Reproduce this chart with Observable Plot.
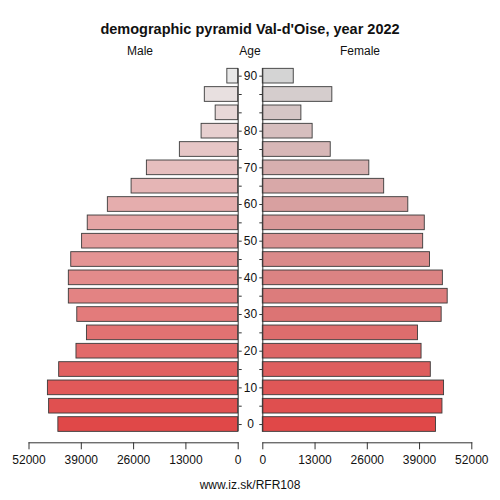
<!DOCTYPE html>
<html>
<head>
<meta charset="utf-8">
<script src="https://cdn.jsdelivr.net/npm/d3@7"></script>
<script src="https://cdn.jsdelivr.net/npm/@observablehq/plot@0.6"></script>
<style>
  html, body { margin: 0; padding: 0; background: #fff; }
  body { width: 500px; height: 500px; position: relative; overflow: hidden;
         font-family: "Liberation Sans", Arial, Helvetica, sans-serif; color: #111; }
  .t { position: absolute; white-space: nowrap; transform: translate(-50%, -50%); }
  #title { left: 250px; top: 29px; font-size: 14.5px; font-weight: bold; }
  .hdr { top: 51px; font-size: 12px; }
  #footer { left: 250px; top: 485px; font-size: 12px; }
  .plot { position: absolute; top: 40px; }
  .plot svg { overflow: visible; }
</style>
</head>
<body>
<div id="title" class="t">demographic pyramid Val-d'Oise, year 2022</div>
<div class="t hdr" style="left:140px">Male</div>
<div class="t hdr" style="left:250px">Age</div>
<div class="t hdr" style="left:360px">Female</div>
<div id="female" class="plot" style="left:250px"></div>
<div id="male" class="plot" style="left:0px"></div>
<div id="footer" class="t">www.iz.sk/RFR108</div>
<script>
// Age groups (start age of 5-year groups), bottom to top
const ageGroups = [0, 5, 10, 15, 20, 25, 30, 35, 40, 45, 50, 55, 60, 65, 70, 75, 80, 85, 90, 95];
// Tick labels shown on the age axis, aligned to ageGroups
const ageTickLabels = ["0", "", "10", "", "20", "", "30", "", "40", "", "50", "", "60", "", "70", "", "80", "", "", "90"];
// Population values
const male   = [44700, 47000, 47300, 44500, 40200, 37600, 40000, 42100, 42100, 41500, 38800, 37400, 32400, 26500, 22700, 14500, 9100, 5600, 8300, 2700];
const female = [43100, 44700, 45100, 41800, 39500, 38600, 44500, 46000, 44800, 41600, 39900, 40300, 36200, 30200, 26500, 16900, 12400, 9600, 17300, 7700];
const xTicks = [0, 13000, 26000, 39000, 52000];

const maleColors = ["#e04848", "#e8e8e8"];
const femaleColors = ["#e04848", "#d4d4d4"];

const font = '"Liberation Sans", Arial, Helvetica, sans-serif';
const W = 250, H = 440;
const domainY = ageGroups.slice().reverse();

function rows(values) {
  return ageGroups.map((a, i) => ({age: a, idx: i, value: values[i], label: ageTickLabels[i]}));
}

const yScale = {
  type: "band", domain: domainY, paddingInner: 0.2, paddingOuter: 0.1, insetBottom: 9.1, round: false
};

const malePlot = Plot.plot({
  width: W, height: H,
  marginLeft: 28.5, marginRight: 12.3, marginTop: 26.5, marginBottom: 37.7,
  style: {fontFamily: font, fontSize: "12px", background: "transparent", color: "#111", overflow: "visible"},
  x: {domain: [52000, 0], ticks: xTicks, tickFormat: d => String(d)},
  y: yScale,
  color: {type: "linear", domain: [0, 19], range: maleColors, interpolate: "rgb"},
  marks: [
    Plot.barX(rows(male), {x: "value", y: "age", fill: "idx", stroke: "#3a3a3a", strokeWidth: 0.9}),
    Plot.axisX({ticks: xTicks, tickSize: 7, tickPadding: 6, tickFormat: d => String(d), label: null, fontSize: 12, stroke: "#333"}),
    Plot.frame({anchor: "bottom", stroke: "#333"}),
    Plot.axisY({anchor: "right", tickSize: 3, tickFormat: () => "", label: null, stroke: "#333"}),
    Plot.ruleX([0], {stroke: "#333", insetBottom: 10.9, insetTop: 1.8}),
    Plot.text(rows(male).filter(d => d.label !== ""), {y: "age", text: "label", frameAnchor: "right", dx: 12.3, textAnchor: "middle", fontSize: 12, fill: "#111"})
  ]
});

const femalePlot = Plot.plot({
  width: W, height: H,
  marginLeft: 12.3, marginRight: 28.7, marginTop: 26.5, marginBottom: 37.7,
  style: {fontFamily: font, fontSize: "12px", background: "transparent", color: "#111", overflow: "visible"},
  x: {domain: [0, 52000], ticks: xTicks, tickFormat: d => String(d)},
  y: yScale,
  color: {type: "linear", domain: [0, 19], range: femaleColors, interpolate: "rgb"},
  marks: [
    Plot.barX(rows(female), {x: "value", y: "age", fill: "idx", stroke: "#3a3a3a", strokeWidth: 0.9}),
    Plot.axisX({ticks: xTicks, tickSize: 7, tickPadding: 6, tickFormat: d => String(d), label: null, fontSize: 12, stroke: "#333"}),
    Plot.frame({anchor: "bottom", stroke: "#333"}),
    Plot.axisY({anchor: "left", tickSize: 3, tickFormat: () => "", label: null, stroke: "#333"}),
    Plot.ruleX([0], {stroke: "#333", insetBottom: 10.9, insetTop: 1.8})
  ]
});

document.getElementById("male").appendChild(malePlot);
document.getElementById("female").appendChild(femalePlot);
</script>
</body>
</html>
